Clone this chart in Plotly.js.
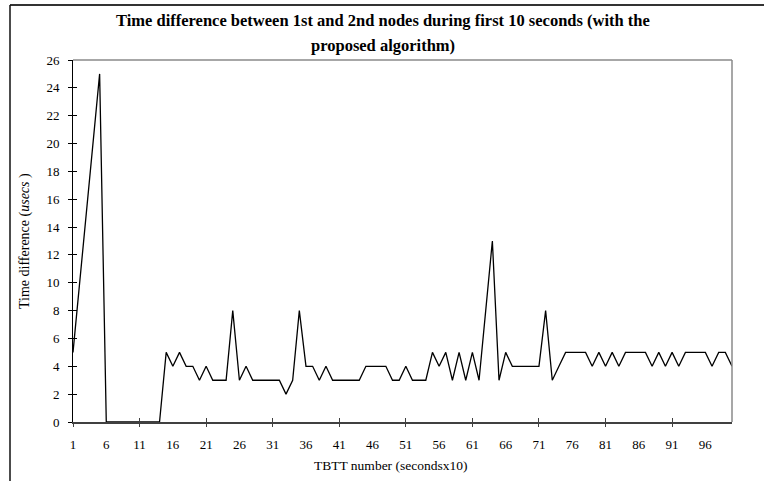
<!DOCTYPE html>
<html>
<head>
<meta charset="utf-8">
<script src="https://cdn.plot.ly/plotly-3.0.1.min.js"></script>
<style>
  html, body { margin: 0; padding: 0; background: #ffffff; }
  #chart { width: 764px; height: 481px; }
</style>
</head>
<body>
<div id="chart"></div>
<script>
// ---- data ----
const timeDiff = [
  5, 10, 15, 20, 25, 0, 0, 0, 0, 0,
  0, 0, 0, 0, 5, 4, 5, 4, 4, 3,
  4, 3, 3, 3, 8, 3, 4, 3, 3, 3,
  3, 3, 2, 3, 8, 4, 4, 3, 4, 3,
  3, 3, 3, 3, 4, 4, 4, 4, 3, 3,
  4, 3, 3, 3, 5, 4, 5, 3, 5, 3,
  5, 3, 8, 13, 3, 5, 4, 4, 4, 4,
  4, 8, 3, 4, 5, 5, 5, 5, 4, 5,
  4, 5, 4, 5, 5, 5, 5, 4, 5, 4,
  5, 4, 5, 5, 5, 5, 4, 5, 5, 4
];
const tbtt = timeDiff.map((_, i) => i + 1);   // category numbers 1..100
const xLabelVals = [1, 6, 11, 16, 21, 26, 31, 36, 41, 46, 51, 56, 61, 66, 71, 76, 81, 86, 91, 96];
const xLabelText = ['1','6','11','16','21','26','31','36','41','46','51','56','61','66','71','76','81','86','91','96'];
const xTickMarks = [1, 11, 21, 31, 41, 51, 61, 71, 81, 91];
const yTickVals = [0, 2, 4, 6, 8, 10, 12, 14, 16, 18, 20, 22, 24, 26];

const titleLine1 = 'Time difference between 1st and 2nd nodes during first 10 seconds (with the';
const titleLine2 = 'proposed algorithm)';
const xTitle = 'TBTT number (secondsx10)';
const yTitle = 'Time difference (<i>usecs</i> )';

// ---- layout geometry ----
const W = 764, H = 481;
const L = 73, R = 32, T = 60, B = 59;
const pw = W - L - R, ph = H - T - B;
const px = p => (p - L) / pw;          // pixel x -> paper x
const py = p => (H - B - p) / ph;      // pixel y -> paper y

const serif = 'Liberation Serif, Times New Roman, serif';
const xRange = [1, 100];
const yRange = [0, 26];

const traces = [
  { x: tbtt, y: timeDiff, type: 'scatter', mode: 'lines',
    line: { color: '#000000', width: 1.3 }, hoverinfo: 'x+y', showlegend: false },
  { x: [null], y: [null], xaxis: 'x2', yaxis: 'y', type: 'scatter', mode: 'lines', showlegend: false, hoverinfo: 'skip' },
  { x: [null], y: [null], xaxis: 'x3', yaxis: 'y', type: 'scatter', mode: 'lines', showlegend: false, hoverinfo: 'skip' },
  { x: [null], y: [null], xaxis: 'x', yaxis: 'y2', type: 'scatter', mode: 'lines', showlegend: false, hoverinfo: 'skip' }
];

const layout = {
  width: W, height: H,
  margin: { l: L, r: R, t: T, b: B, pad: 0 },
  paper_bgcolor: '#ffffff', plot_bgcolor: '#ffffff',
  font: { family: serif, size: 13, color: '#000000' },
  showlegend: false,
  xaxis: {
    range: xRange, showgrid: false, zeroline: false,
    showline: true, linecolor: '#404040', linewidth: 2,
    tickmode: 'array', tickvals: xLabelVals, ticktext: xLabelText,
    ticks: 'outside', ticklen: 4, tickcolor: 'rgba(0,0,0,0)',
    ticklabelstandoff: 5,
    tickfont: { family: serif, size: 13, color: '#000' }
  },
  xaxis2: {
    overlaying: 'x', anchor: 'y', side: 'bottom', range: xRange,
    showgrid: false, zeroline: false, showline: false, showticklabels: false,
    tickmode: 'array', tickvals: xTickMarks,
    ticks: 'outside', ticklen: 4, tickwidth: 1, tickcolor: '#404040'
  },
  xaxis3: {
    overlaying: 'x', anchor: 'y', side: 'bottom', range: xRange,
    showgrid: false, zeroline: false, showline: false, showticklabels: false,
    tickmode: 'array', tickvals: xTickMarks,
    ticks: 'inside', ticklen: 4, tickwidth: 1, tickcolor: '#404040'
  },
  yaxis: {
    range: yRange, showgrid: false, zeroline: false,
    showline: true, linecolor: '#000000', linewidth: 1,
    tickmode: 'array', tickvals: yTickVals,
    ticks: 'outside', ticklen: 4, tickwidth: 1, tickcolor: '#000',
    ticklabelstandoff: 6,
    tickfont: { family: serif, size: 13, color: '#000' }
  },
  yaxis2: {
    overlaying: 'y', anchor: 'x', side: 'left', range: yRange,
    showgrid: false, zeroline: false, showline: false, showticklabels: false,
    tickmode: 'array', tickvals: yTickVals,
    ticks: 'inside', ticklen: 4, tickwidth: 1, tickcolor: '#000'
  },
  shapes: [
    // plot-area top and right border (grey)
    { type: 'line', xref: 'paper', yref: 'paper', x0: 0, x1: 1, y0: 1, y1: 1,
      line: { color: '#8a8a8a', width: 1.5 } },
    { type: 'line', xref: 'paper', yref: 'paper', x0: 1, x1: 1, y0: 0, y1: 1,
      line: { color: '#8a8a8a', width: 1.5 } },
    // outer chart frame (top and left visible)
    { type: 'line', xref: 'paper', yref: 'paper', x0: px(10), x1: px(770), y0: py(5), y1: py(5),
      line: { color: '#333333', width: 2 } },
    { type: 'line', xref: 'paper', yref: 'paper', x0: px(10), x1: px(10), y0: py(5), y1: py(490),
      line: { color: '#111111', width: 1.5 } }
  ],
  annotations: [
    { text: '<b>' + titleLine1 + '</b>', xref: 'paper', yref: 'paper',
      x: px(383), y: py(20), xanchor: 'center', yanchor: 'middle', showarrow: false,
      font: { family: serif, size: 16.5, color: '#000' } },
    { text: '<b>' + titleLine2 + '</b>', xref: 'paper', yref: 'paper',
      x: px(383), y: py(45), xanchor: 'center', yanchor: 'middle', showarrow: false,
      font: { family: serif, size: 16.5, color: '#000' } },
    { text: xTitle, xref: 'paper', yref: 'paper',
      x: px(390), y: py(465), xanchor: 'center', yanchor: 'middle', showarrow: false,
      font: { family: serif, size: 13.5, color: '#000' } },
    { text: yTitle, xref: 'paper', yref: 'paper', textangle: -90,
      x: px(25), y: 0.5, xanchor: 'center', yanchor: 'middle', showarrow: false,
      font: { family: serif, size: 14, color: '#000' } }
  ]
};

Plotly.newPlot('chart', traces, layout, { displayModeBar: false, staticPlot: true });
</script>
</body>
</html>
